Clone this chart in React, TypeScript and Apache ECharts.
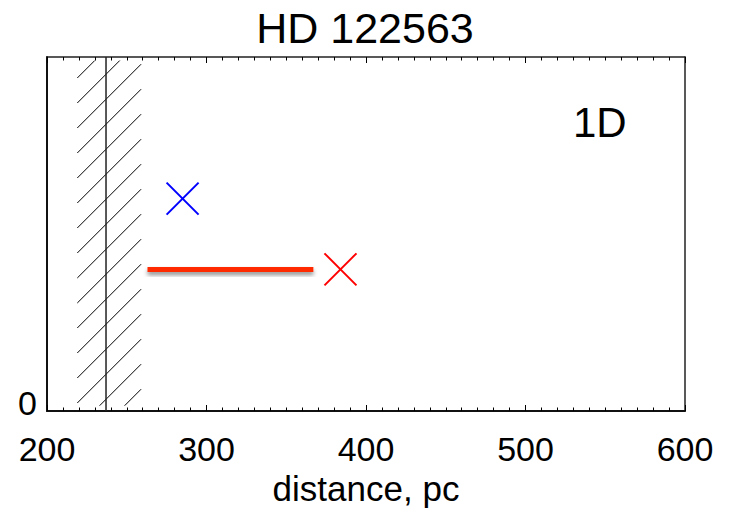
import React, { useEffect, useRef } from "react";
import * as echarts from "echarts";

const titleText = "HD 122563";
const panelLabel = "1D";
const xAxisName = "distance, pc";
const xMin = 200;
const xMax = 600;
const xInterval = 100;
const yMin = 0;
const yMax = 1;
const yTickLabels = ["0"];

// excluded (hatched) distance band and the limit line inside it
const hatchBand = [219, 259];
const hatchYBand = [0.015, 0.99];
const limitLine = [237];

// markers: [distance, level]
const blueMarks = [[285, 0.6]];
const redMarks = [[384, 0.4]];
const redRange = [[263, 367, 0.4]];

const FONT = "'Liberation Sans', Arial, Helvetica, sans-serif";

export default function App() {
  const ref = useRef<HTMLDivElement>(null);
  useEffect(() => {
    document.body.style.margin = "0";
    if (!ref.current) return;
    const chart = echarts.init(ref.current, null, { renderer: "svg" });

    const crossItem = (color: string) => (params: any, api: any) => {
      const p = api.coord([api.value(0), api.value(1)]);
      const h = 16;
      return {
        type: "group",
        children: [
          {
            type: "line",
            shape: { x1: p[0] - h, y1: p[1] - h, x2: p[0] + h, y2: p[1] + h },
            style: { stroke: color, lineWidth: 2 },
          },
          {
            type: "line",
            shape: { x1: p[0] - h, y1: p[1] + h, x2: p[0] + h, y2: p[1] - h },
            style: { stroke: color, lineWidth: 2 },
          },
        ],
      };
    };

    const option: any = {
      animation: false,
      backgroundColor: "#ffffff",
      title: [
        {
          text: titleText,
          left: "center",
          top: 1,
          textStyle: { fontFamily: FONT, fontSize: 43, fontWeight: "normal", color: "#000" },
        },
        {
          text: panelLabel,
          left: 568,
          top: 96,
          textStyle: { fontFamily: FONT, fontSize: 42, fontWeight: "normal", color: "#000" },
        },
      ],
      grid: { left: 47, right: 45, top: 57, bottom: 93, containLabel: false },
      xAxis: [
        {
          type: "value",
          position: "bottom",
          min: xMin,
          max: xMax,
          interval: xInterval,
          name: xAxisName,
          nameLocation: "middle",
          nameGap: 60,
          nameTextStyle: { fontFamily: FONT, fontSize: 35, color: "#000" },
          axisLine: { show: true, onZero: false, lineStyle: { color: "#111", width: 2 } },
          axisTick: { show: true, inside: true, length: 6, lineStyle: { color: "#000", width: 1 } },
          minorTick: { show: true, splitNumber: 10, length: 3.5, lineStyle: { color: "#000", width: 1 } },
          axisLabel: { fontFamily: FONT, fontSize: 34, color: "#000", margin: 21 },
          splitLine: { show: false },
        },
        {
          type: "value",
          position: "top",
          min: xMin,
          max: xMax,
          interval: xInterval,
          axisLine: { show: true, onZero: false, lineStyle: { color: "#222", width: 1.5 } },
          axisTick: { show: true, inside: true, length: 6, lineStyle: { color: "#000", width: 1 } },
          minorTick: { show: true, splitNumber: 10, length: 3.5, lineStyle: { color: "#000", width: 1 } },
          axisLabel: { show: false },
          splitLine: { show: false },
        },
      ],
      yAxis: [
        {
          type: "value",
          position: "left",
          min: yMin,
          max: yMax,
          interval: 1,
          axisLine: { show: true, onZero: false, lineStyle: { color: "#111", width: 2 } },
          axisTick: { show: false },
          axisLabel: {
            fontFamily: FONT,
            fontSize: 34,
            color: "#000",
            margin: 10,
            verticalAlign: "bottom",
            lineHeight: 16,
            formatter: (v: number) => (v === yMin ? yTickLabels[0] : ""),
          },
          splitLine: { show: false },
        },
        {
          type: "value",
          position: "right",
          min: yMin,
          max: yMax,
          axisLine: { show: true, onZero: false, lineStyle: { color: "#222", width: 1.5 } },
          axisTick: { show: false },
          axisLabel: { show: false },
          splitLine: { show: false },
        },
      ],
      series: [
        {
          type: "custom",
          name: "hatch",
          xAxisIndex: 0,
          yAxisIndex: 0,
          data: [[hatchBand[0], hatchBand[1], hatchYBand[0], hatchYBand[1]]],
          renderItem: (params: any, api: any) => {
            const a = api.coord([api.value(0), api.value(2)]);
            const b = api.coord([api.value(1), api.value(3)]);
            const x1 = a[0];
            const x2 = b[0];
            const yBot = a[1];
            const yTop = b[1];
            const step = 25;
            const phase = 205.3;
            const cMin = x1 + yTop;
            const cMax = x2 + yBot;
            let c = phase + Math.floor((cMin - phase) / step) * step;
            const children: any[] = [];
            for (; c <= cMax; c += step) {
              const xa = Math.max(x1, c - yBot);
              const xb = Math.min(x2, c - yTop);
              if (xb - xa > 0.5) {
                children.push({
                  type: "line",
                  shape: { x1: xa, y1: c - xa, x2: xb, y2: c - xb },
                  style: { stroke: "#000", lineWidth: 1 },
                });
              }
            }
            return { type: "group", children };
          },
          silent: true,
          z: 2,
        },
        {
          type: "custom",
          name: "limit",
          data: limitLine.map((v) => [v]),
          renderItem: (params: any, api: any) => {
            const top = api.coord([api.value(0), yMax]);
            const bot = api.coord([api.value(0), yMin]);
            return {
              type: "line",
              shape: { x1: top[0], y1: top[1], x2: bot[0], y2: bot[1] },
              style: { stroke: "#222", lineWidth: 1.5 },
            };
          },
          silent: true,
          z: 3,
        },
        {
          type: "custom",
          name: "range",
          data: redRange,
          renderItem: (params: any, api: any) => {
            const a = api.coord([api.value(0), api.value(2)]);
            const b = api.coord([api.value(1), api.value(2)]);
            const w = 5;
            return {
              type: "rect",
              shape: { x: a[0], y: a[1] - w / 2, width: b[0] - a[0], height: w },
              style: {
                fill: "#ff2a00",
                shadowColor: "rgba(0,0,0,0.45)",
                shadowBlur: 4,
                shadowOffsetY: 3,
              },
            };
          },
          z: 4,
        },
        {
          type: "custom",
          name: "blue",
          data: blueMarks,
          renderItem: crossItem("#0000ff"),
          z: 5,
        },
        {
          type: "custom",
          name: "red",
          data: redMarks,
          renderItem: crossItem("#ff0000"),
          z: 5,
        },
      ],
    };
    chart.setOption(option);
    return () => chart.dispose();
  }, []);
  return <div ref={ref} style={{ width: 730, height: 511 }} />;
}
